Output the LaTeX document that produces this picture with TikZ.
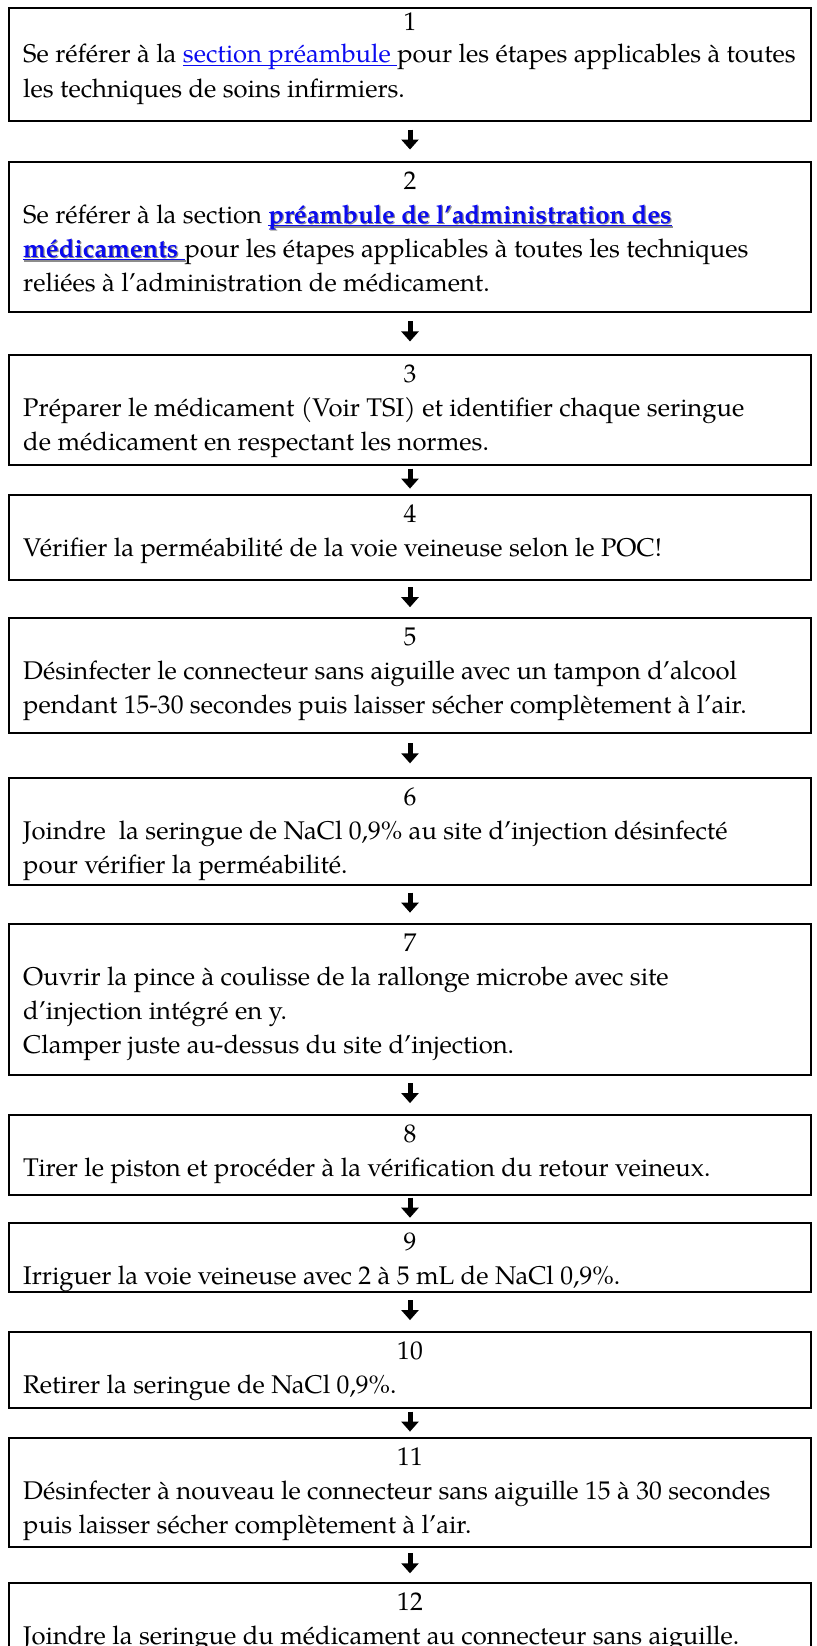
\documentclass[tikz,border=0pt]{standalone}
\usepackage{fontspec}
\setmainfont{texgyrepagella-regular.otf}[BoldFont=texgyrepagella-bold.otf]
\usetikzlibrary{arrows.meta}
\definecolor{linkblue}{RGB}{10,10,240}
\definecolor{shadowgray}{RGB}{140,140,140}
\newcommand\ulbox[1]{\setbox0\hbox{#1}\rlap{\rule[-3.4bp]{\wd0}{1.5bp}}\box0}
\newcommand\lnk[1]{{\color{linkblue}\ulbox{#1}}}
\newcommand\shlnk[1]{\rlap{\kern1.2bp\raisebox{-1.2bp}{\color{shadowgray}\ulbox{\bfseries #1}}}{\color{linkblue}\ulbox{\bfseries #1}}}
\tikzset{
  stepbox/.style={draw=black, line width=2bp, inner sep=0pt, minimum width=802bp},
  numtxt/.style={anchor=base, inner sep=0pt, font=\fontsize{25.6bp}{30bp}\selectfont},
  linetxt/.style={anchor=base west, inner sep=0pt, font=\fontsize{25.6bp}{30bp}\selectfont},
  flowarrow/.style={line width=5bp, -{Triangle[width=17bp,length=10bp]}}
}
% \mkbox{name}{top}{bottom}
\newcommand\mkbox[3]{\node[stepbox, minimum height=#3bp-#2bp] (#1) at (410,{(#2+#3)/2}) {};}
\begin{document}
\begin{tikzpicture}[x=1bp,y=-1bp]
\useasboundingbox (0,0) rectangle (817,1646);
\clip (0,0) rectangle (817,1646);
\fill[white] (0,0) rectangle (817,1646);
% boxes
\mkbox{b1}{8}{121}
\mkbox{b2}{162}{312}
\mkbox{b3}{355}{465}
\mkbox{b4}{495}{580}
\mkbox{b5}{618}{733}
\mkbox{b6}{778}{885}
\mkbox{b7}{924}{1075}
\mkbox{b8}{1115}{1195}
\mkbox{b9}{1223}{1292}
\mkbox{b10}{1332}{1408}
\mkbox{b11}{1438}{1547}
\mkbox{b12}{1583}{1700}
% texts
\node[numtxt] (n1) at (410,31) {1};
\node[linetxt] (t1a) at (23,63) {Se référer à la \lnk{section préambule }pour les étapes applicables à toutes};
\node[linetxt] (t1b) at (23,97) {les techniques de soins infirmiers.};
\node[numtxt] (n2) at (410,189) {2};
\node[linetxt] (t2a) at (23,223) {Se référer à la section \shlnk{préambule de l’administration des}};
\node[linetxt] (t2b) at (23,257) {\shlnk{médicaments }pour les étapes applicables à toutes les techniques};
\node[linetxt] (t2c) at (23,291) {reliées à l’administration de médicament.};
\node[numtxt] (n3) at (410,382) {3};
\node[linetxt] (t3a) at (23,416) {Préparer le médicament (Voir TSI) et identifier chaque seringue};
\node[linetxt] (t3b) at (23,450) {de médicament en respectant les normes.};
\node[numtxt] (n4) at (410,522) {4};
\node[linetxt] (t4a) at (23,556) {Vérifier la perméabilité de la voie veineuse selon le POC!};
\node[numtxt] (n5) at (410,645) {5};
\node[linetxt] (t5a) at (23,679) {Désinfecter le connecteur sans aiguille avec un tampon d’alcool};
\node[linetxt] (t5b) at (23,713) {pendant 15-30 secondes puis laisser sécher complètement à l’air.};
\node[numtxt] (n6) at (410,805) {6};
\node[linetxt] (t6a) at (23,839) {Joindre\ \ la seringue de NaCl 0,9\% au site d’injection désinfecté};
\node[linetxt] (t6b) at (23,873) {pour vérifier la perméabilité.};
\node[numtxt] (n7) at (410,951) {7};
\node[linetxt] (t7a) at (23,985) {Ouvrir la pince à coulisse de la rallonge microbe avec site};
\node[linetxt] (t7b) at (23,1019) {d’injection intégré en y.};
\node[linetxt] (t7c) at (23,1053) {Clamper juste au-dessus du site d’injection.};
\node[numtxt] (n8) at (410,1142) {8};
\node[linetxt] (t8a) at (23,1176) {Tirer le piston et procéder à la vérification du retour veineux.};
\node[numtxt] (n9) at (410,1250) {9};
\node[linetxt] (t9a) at (23,1284) {Irriguer la voie veineuse avec 2 à 5 mL de NaCl 0,9\%.};
\node[numtxt] (n10) at (410,1359) {10};
\node[linetxt] (t10a) at (23,1393) {Retirer la seringue de NaCl 0,9\%.};
\node[numtxt] (n11) at (410,1465) {11};
\node[linetxt] (t11a) at (23,1499) {Désinfecter à nouveau le connecteur sans aiguille 15 à 30 secondes};
\node[linetxt] (t11b) at (23,1533) {puis laisser sécher complètement à l’air.};
\node[numtxt] (n12) at (410,1610) {12};
\node[linetxt] (t12a) at (23,1644) {Joindre la seringue du médicament au connecteur sans aiguille.};
% arrows
\foreach \a/\b in {b1/b2,b2/b3,b3/b4,b4/b5,b5/b6,b6/b7,b7/b8,b8/b9,b9/b10,b10/b11,b11/b12}{
  \path (\a.south) -- coordinate[pos=0.45] (m) (\b.north);
  \draw[flowarrow] ([yshift=10bp]m) -- ([yshift=-10bp]m);
}
\end{tikzpicture}
\end{document}
